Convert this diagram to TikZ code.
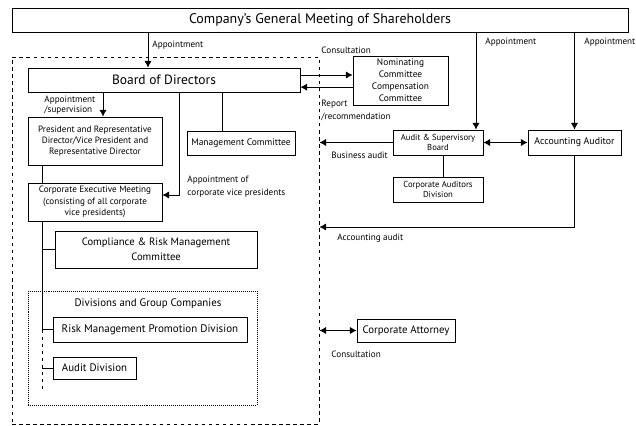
\documentclass[tikz,border=0pt]{standalone}
\usepackage{fontspec}
\setmainfont{PT Sans}
\usetikzlibrary{positioning,arrows.meta}

\begin{document}
\begin{tikzpicture}[
			x=0.03cm,y=-0.03cm,
			font=\fontsize{7.8}{9.4}\selectfont,
			>={Latex[length=2mm,width=2.2mm]},
			line width=0.8pt,
			box/.style={rectangle,draw,line width=0.7pt,inner sep=1pt,align=center},
			lbl/.style={anchor=west,inner sep=0pt,align=left,font=\fontsize{7.8}{9}\selectfont},
			]
			
			\useasboundingbox (0,0) rectangle (636,426);
			
			% Shareholders
			\node[box,minimum width=18.48cm,minimum height=0.72cm,font=\fontsize{11.9}{13}\selectfont] (gms) at (320,20)
			{Company's General Meeting of Shareholders};
			
			% Group boundary
			\node[draw,dashed,line width=0.7pt,minimum width=9.21cm,minimum height=11.01cm,inner sep=0pt] (group) at (165.5,240.5) {};
			
			% Board and committees
			\node[box,minimum width=8.16cm,minimum height=0.72cm,font=\fontsize{11.5}{13}\selectfont] (board) at (164,80) {Board of Directors};
			\node[box,minimum width=2.85cm,minimum height=1.47cm,font=\fontsize{8}{10.2}\selectfont] (nomcomm) at (400.5,80.5)
			{Nominating\\Committee\\Compensation\\Committee};
			\node[box,minimum width=4.02cm,minimum height=1.44cm] (pres) at (95,141)
			{President and Representative\\Director/Vice President and\\Representative Director};
			\node[box,minimum width=3.24cm,minimum height=0.72cm,font=\fontsize{8.1}{9.4}\selectfont] (mgmtcomm) at (241,143) {Management Committee};
			\node[box,minimum width=4.02cm,minimum height=1.14cm,font=\fontsize{7.8}{9.8}\selectfont] (cem) at (95,202)
			{Corporate Executive Meeting\\(consisting of all corporate\\vice presidents)};
			\node[box,minimum width=6.06cm,minimum height=1.11cm,font=\fontsize{9.1}{12.8}\selectfont] (crmc) at (156,249.5)
			{Compliance \& Risk Management\\Committee};
			
			% Divisions
			\node[draw,densely dotted,line width=0.7pt,minimum width=6.87cm,minimum height=3.42cm,inner sep=0pt] (divs) at (142.5,348) {};
			\node[font=\fontsize{9.3}{10}\selectfont] (divlbl) at (148,304) {Divisions and Group Companies};
			\node[box,minimum width=5.82cm,minimum height=0.75cm,font=\fontsize{9.4}{10}\selectfont] (rmpd) at (150,329.5)
			{Risk Management Promotion Division};
			\node[box,minimum width=2.49cm,minimum height=0.66cm,font=\fontsize{9.3}{10}\selectfont] (auddiv) at (94.5,368) {Audit Division};
			
			% Auditors
			\node[box,minimum width=2.7cm,minimum height=0.75cm,font=\fontsize{7.4}{9}\selectfont] (asb) at (438,142.5) {Audit \& Supervisory\\Board};
			\node[box,minimum width=2.79cm,minimum height=0.75cm,font=\fontsize{8.4}{10}\selectfont] (accaud) at (574.5,142.5) {Accounting Auditor};
			\node[box,minimum width=2.7cm,minimum height=0.75cm,font=\fontsize{7.4}{9}\selectfont] (cad) at (438,189.5) {Corporate Auditors\\Division};
			\node[box,minimum width=2.94cm,minimum height=0.69cm,font=\fontsize{9.2}{10}\selectfont] (attorney) at (406,330.5) {Corporate Attorney};
			
			% Helper coordinates
			\coordinate (trunk) at (42,0);
			\coordinate (trunkend) at (42,392);
			\coordinate (cvp) at (179,195);
			\coordinate (audrow) at (0,227);
			
			% Labels
			\node[lbl] (l1) at (152,45) {Appointment};
			\node[lbl] (l2) at (321,50) {Consultation};
			\node[lbl,font=\fontsize{7.8}{11}\selectfont] (l3) at (321,110) {Report\\/recommendation};
			\node[lbl] (l4) at (485,42) {Appointment};
			\node[lbl] (l5) at (584,42) {Appointment};
			\node[lbl] (l6) at (331,155) {Business audit};
			\node[lbl] (l7) at (337,238) {Accounting audit};
			\node[lbl] (l8) at (331,354) {Consultation};
			\node[lbl] (l9) at (44,105) {Appointment\\/supervision};
			\node[lbl,font=\fontsize{7.8}{11}\selectfont] (l10) at (187,187) {Appointment of\\corporate vice presidents};
			
			% Connections
			\draw[->] (gms.south -| 148,0) -- (board.north -| 148,0);
			\draw[->] (gms.south -| 476,0) -- (asb.north -| 476,0);
			\draw[->] (gms.south -| accaud.north) -- (accaud.north);
			
			\draw[->] ([yshift=1.5mm]board.east) -- ([yshift=1.5mm]board.east -| nomcomm.west);
			\draw[->] ([yshift=-2mm]nomcomm.west) -- ([yshift=-2mm]nomcomm.west -| board.east);
			
			\draw[->] (board.south -| 103,0) -- (pres.north -| 103,0);
			\draw (board.south -| 222,0) -- (mgmtcomm.north -| 222,0);
			\draw[->] (board.south -| cvp) -- (cvp) -- (cem.east |- cvp);
			
			\draw (pres.south -| trunk) -- (cem.north -| trunk);
			\draw (cem.south -| trunk) -- (rmpd.west -| trunk) -- (rmpd.west);
			\draw (crmc.west -| trunk) -- (crmc.west);
			\draw[dashed] (rmpd.west -| trunk) -- (trunkend);
			\draw (auddiv.west -| trunk) -- (auddiv.west);
			
			\draw[<->] (asb.east) -- (accaud.west);
			\draw[->] (asb.west) -- (asb.west -| group.east);
			\draw (asb.south -| 443,0) -- (cad.north -| 443,0);
			\draw[->] (accaud.south) -- (accaud.south |- audrow) -- (audrow -| group.east);
			\draw[<->] (attorney.west) -- (attorney.west -| group.east);
			
		\end{tikzpicture}
\end{document}
